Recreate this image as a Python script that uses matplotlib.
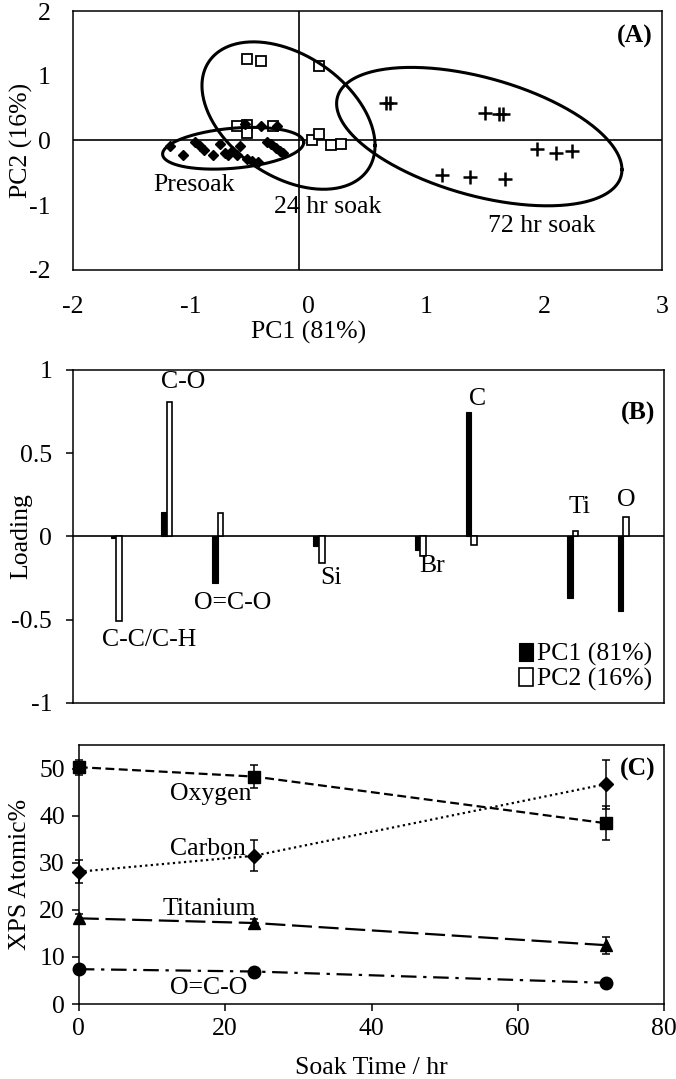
import matplotlib
matplotlib.use('Agg')
import matplotlib.pyplot as plt
import numpy as np
from matplotlib.ticker import FuncFormatter

plt.rcParams['font.family'] = ['Liberation Serif', 'DejaVu Serif']
plt.rcParams['axes.unicode_minus'] = False
plt.rcParams['font.size'] = 18.5

# ---- (A) PCA scores ----
presoak_pc1 = [-1.18, -1.07, -0.96, -0.92, -0.89, -0.81, -0.75, -0.71, -0.68, -0.65, -0.58, -0.61,
               -0.52, -0.48, -0.43, -0.54, -0.40, -0.27, -0.35, -0.32, -0.28, -0.24, -0.22]
presoak_pc2 = [-0.08, -0.23, -0.03, -0.09, -0.14, -0.23, -0.05, -0.20, -0.23, -0.17, -0.09, -0.22,
               -0.29, -0.32, -0.34, 0.25, 0.23, 0.22, -0.03, -0.06, -0.12, -0.17, -0.20]
soak24_pc1 = [-0.52, -0.40, 0.09, -0.61, -0.52, -0.52, -0.30, 0.03, 0.09, 0.19, 0.28]
soak24_pc2 = [1.26, 1.23, 1.15, 0.23, 0.24, 0.11, 0.22, 0.01, 0.10, -0.07, -0.05]
soak72_pc1 = [0.66, 0.69, 1.50, 1.62, 1.65, 1.94, 2.10, 2.24, 1.13, 1.37, 1.67]
soak72_pc2 = [0.58, 0.58, 0.42, 0.41, 0.41, -0.13, -0.20, -0.17, -0.54, -0.56, -0.60]

# group ellipses: centre x, centre y, var x, var y, covariance
ell_cx = [-0.64, -0.17, 1.45]
ell_cy = [-0.12, 0.385, 0.06]
ell_sxx = [0.359, 0.540, 1.468]
ell_syy = [0.104, 1.296, 1.143]
ell_sxy = [0.0535, -0.339, -0.618]

group_labels = ['Presoak', '24 hr soak', '72 hr soak']
group_label_x = [-0.97, 0.16, 1.98]
group_label_y = [-0.69, -1.03, -1.32]
axis_cross_x = -0.08

# ---- (B) loadings ----
species = ['C-C/C-H', 'C-O', 'O=C-O', 'Si', 'Br', 'C', 'Ti', 'O']
species_pos = [0, 1, 2, 4, 6, 7, 9, 10]
pc1_load = [-0.01, 0.15, -0.28, -0.06, -0.08, 0.75, -0.37, -0.445]
pc2_load = [-0.51, 0.81, 0.14, -0.16, -0.12, -0.05, 0.035, 0.12]
species_lab_x = [0.65, 1.32, 2.30, 4.23, 6.24, 7.13, 9.13, 10.05]
species_lab_y = [-0.62, 0.925, -0.40, -0.25, -0.18, 0.825, 0.175, 0.22]

# ---- (C) XPS atomic % ----
soak_time = [0, 24, 72]
oxygen = [50.3, 48.3, 38.4]
oxygen_err = [1.6, 2.5, 3.6]
carbon = [28.1, 31.5, 46.7]
carbon_err = [2.5, 3.3, 5.2]
titanium = [18.2, 17.2, 12.5]
titanium_err = [0.9, 0.8, 1.8]
oco = [7.4, 6.9, 4.5]
oco_err = [0.7, 0.6, 0.5]
series_names = ['Oxygen', 'Carbon', 'Titanium', 'O=C-O']
series_lab_x = [18.0, 17.6, 17.8, 17.8]
series_lab_y = [44.7, 33.0, 20.1, 3.3]

fig = plt.figure(figsize=(6.76, 10.79), dpi=100)
axA = fig.add_axes([0.108, 0.7498, 0.871, 0.240])
axB = fig.add_axes([0.108, 0.3485, 0.874, 0.3086])
axC = fig.add_axes([0.1166, 0.0695, 0.866, 0.240])

for ax in (axA, axB, axC):
    for s in ax.spines.values():
        s.set_linewidth(1.1)

# Panel A
axA.axhline(0, color='black', lw=1.2, zorder=1)
axA.axvline(axis_cross_x, color='black', lw=1.2, zorder=1)
axA.plot(soak24_pc1, soak24_pc2, 's', mfc='white', mec='black', mew=1.3, ms=7, zorder=3)
axA.plot(presoak_pc1, presoak_pc2, 'D', color='black', ms=5.5, zorder=4)
axA.plot(soak72_pc1, soak72_pc2, '+', color='black', ms=10, mew=1.8, zorder=4)
t = np.linspace(0, 2 * np.pi, 300)
for cx, cy, sxx, syy, sxy in zip(ell_cx, ell_cy, ell_sxx, ell_syy, ell_sxy):
    L = np.linalg.cholesky(np.array([[sxx, sxy], [sxy, syy]]))
    pts = L @ np.vstack([np.cos(t), np.sin(t)])
    axA.plot(cx + pts[0], cy + pts[1], color='black', lw=2.2, zorder=5)
for lab, x, y in zip(group_labels, group_label_x, group_label_y):
    axA.text(x, y, lab, ha='center', va='center')
axA.text(0.985, 0.9, '(A)', transform=axA.transAxes, ha='right', va='center', fontweight='bold')
axA.set_xlim(-2, 3)
axA.set_ylim(-2, 2)
axA.set_xticks([-2, -1, 0, 1, 2, 3])
axA.set_yticks([-2, -1, 0, 1, 2])
axA.tick_params(axis='x', length=0, pad=19)
axA.tick_params(axis='y', length=0, pad=16)
axA.set_xlabel('PC1 (81%)')
axA.xaxis.label.set_va('center')
axA.xaxis.set_label_coords(0.40, -0.243)
axA.set_ylabel('PC2 (16%)')
axA.yaxis.label.set_va('center')
axA.yaxis.set_label_coords(-0.087, 0.5)

# Panel B
bw = 0.11
x = np.array(species_pos)
axB.bar(x - bw / 2, pc1_load, width=bw, color='black', edgecolor='black', lw=0.8,
        label='PC1 (81%)', zorder=3)
axB.bar(x + bw / 2, pc2_load, width=bw, color='white', edgecolor='black', lw=1.2,
        label='PC2 (16%)', zorder=3)
axB.axhline(0, color='black', lw=1.2, zorder=2)
for lab, lx, ly in zip(species, species_lab_x, species_lab_y):
    axB.text(lx, ly, lab, ha='center', va='center')
axB.text(0.985, 0.87, '(B)', transform=axB.transAxes, ha='right', va='center', fontweight='bold')
axB.set_xlim(-0.85, 10.8)
axB.set_ylim(-1, 1)
axB.set_yticks([-1, -0.5, 0, 0.5, 1])
axB.yaxis.set_major_formatter(FuncFormatter(lambda v, p: '%g' % v))
axB.set_xticks([])
axB.tick_params(axis='y', direction='out', length=5, width=1.1, pad=10)
axB.set_ylabel('Loading')
axB.yaxis.label.set_va('center')
axB.yaxis.set_label_coords(-0.088, 0.5)
axB.legend(loc='lower right', frameon=False, handlelength=0.55, handleheight=0.75,
           handletextpad=0.15, labelspacing=0.05, borderaxespad=0.05, fontsize=18.5)

# Panel C
styles = [
    (oxygen, oxygen_err, 's', (0, (4, 2))),
    (carbon, carbon_err, 'D', (0, (1, 1.5))),
    (titanium, titanium_err, '^', (0, (9, 3))),
    (oco, oco_err, 'o', (0, (7, 3, 1.5, 3))),
]
for vals, errs, mk, ls in styles:
    ms = 7 if mk == 'D' else 9
    axC.errorbar(soak_time, vals, yerr=errs, fmt=mk, color='black', ms=ms, ecolor='black',
                 elinewidth=1.1, capsize=3, capthick=1.1, linestyle=ls, lw=1.6, clip_on=False, zorder=3)
for name, lx, ly in zip(series_names, series_lab_x, series_lab_y):
    axC.text(lx, ly, name, ha='center', va='center')
axC.text(0.985, 0.905, '(C)', transform=axC.transAxes, ha='right', va='center', fontweight='bold')
axC.set_xlim(0, 80)
axC.set_ylim(0, 55)
axC.set_xticks([0, 20, 40, 60, 80])
axC.set_yticks([0, 10, 20, 30, 40, 50])
axC.tick_params(direction='out', length=5, width=1.1, pad=5)
axC.set_xlabel('Soak Time / hr')
axC.xaxis.label.set_va('center')
axC.xaxis.set_label_coords(0.5, -0.247)
axC.set_ylabel('XPS Atomic%')
axC.yaxis.label.set_va('center')
axC.yaxis.set_label_coords(-0.1, 0.5)

fig.savefig('out.png', dpi=100)
